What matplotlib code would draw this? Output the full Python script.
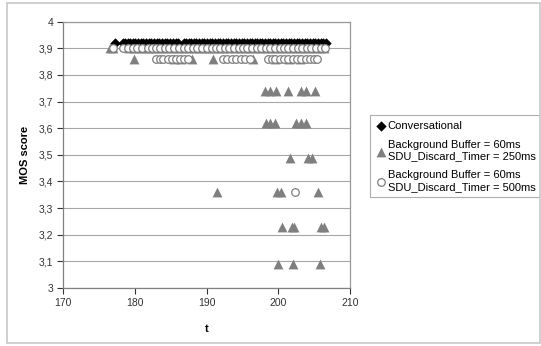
import matplotlib
matplotlib.use('Agg')
import matplotlib.pyplot as plt
from matplotlib.patches import Rectangle
from matplotlib.ticker import FuncFormatter

plt.rcParams['font.family'] = ['Liberation Sans', 'DejaVu Sans']

# Conversational (black diamonds)
conv_t = [177.2, 178.3, 178.7, 179.0, 179.4, 179.8, 180.1, 180.5, 180.9, 181.2, 181.6,
          182.0, 182.3, 182.7, 183.1, 183.4, 183.8, 184.2, 184.5, 184.9, 185.3, 185.7,
          186.0, 186.8, 187.2, 187.5, 187.9, 188.3, 188.6, 189.0, 189.4, 189.7, 190.1,
          190.5, 190.8, 191.2, 191.6, 191.9, 192.3, 192.7, 193.0, 193.4, 193.8, 194.1,
          194.5, 194.9, 195.2, 195.6, 196.0, 196.3, 196.7, 197.1, 197.4, 197.8, 198.2,
          198.5, 198.9, 199.3, 199.6, 200.0, 200.4, 200.7, 201.1, 201.5, 201.8, 202.2,
          202.6, 202.9, 203.3, 203.7, 204.0, 204.4, 204.8, 205.1, 205.5, 205.9, 206.2,
          206.6]
conv_mos = [3.92] * len(conv_t)

# Background Buffer = 60ms, SDU_Discard_Timer = 250ms (grey triangles)
tri_t = [176.6, 177.0, 179.2, 179.9, 180.6, 181.3, 182.0, 182.7, 183.4, 184.1, 184.8,
         185.5, 186.2, 186.9, 187.6, 188.3, 189.0, 189.7, 190.4, 191.1, 191.8, 192.5,
         193.2, 193.9, 194.6, 195.3, 196.0, 196.7, 197.4, 198.1, 198.8, 199.5, 200.2,
         200.9, 201.6, 202.3, 203.0, 203.7, 204.4, 205.1, 205.8, 206.4,
         179.9, 185.5, 186.5, 188.0, 190.9, 196.5, 199.5, 201.5, 203.0,
         198.2, 198.9, 199.7, 201.4, 203.2, 203.9, 205.1,
         198.3, 198.9, 199.6, 202.5, 203.1, 203.8,
         201.6, 204.1, 204.7,
         191.5, 199.8, 200.4, 205.5,
         200.5, 201.9, 202.2, 206.0, 206.4,
         199.9, 202.1, 205.8]
tri_mos = ([3.90] * 42 + [3.86] * 9 + [3.74] * 7 + [3.62] * 6 + [3.49] * 3
           + [3.36] * 4 + [3.23] * 5 + [3.09] * 3)

# Background Buffer = 60ms, SDU_Discard_Timer = 500ms (open circles)
circ_t = [176.9, 178.4, 179.0, 179.7, 180.3, 181.0, 181.8, 182.4, 182.9, 183.5, 184.2,
          184.8, 185.4, 186.1, 186.8, 187.4, 188.1, 188.7, 189.3, 190.0, 190.7, 191.3,
          191.9, 192.6, 193.2, 193.8, 194.5, 195.1, 195.7, 196.4, 197.0, 197.6, 198.3,
          198.9, 199.5, 200.2, 200.8, 201.4, 202.1, 202.7, 203.3, 204.0, 204.6, 205.2,
          205.9, 206.5,
          183.0, 183.5, 184.0, 184.6, 185.2, 185.8, 186.3, 186.9, 187.4,
          192.3, 192.9, 193.5, 194.1, 194.8, 195.4, 196.0,
          198.6, 199.1, 199.6, 200.2, 200.8, 201.4, 202.0, 202.6, 203.2, 203.8, 204.4,
          205.0, 205.4,
          202.3]
circ_mos = [3.90] * 46 + [3.86] * 29 + [3.36]

y_ticks = [3.0, 3.1, 3.2, 3.3, 3.4, 3.5, 3.6, 3.7, 3.8, 3.9, 4.0]
x_ticks = [170, 180, 190, 200, 210]

fig = plt.figure(figsize=(5.41, 3.46), dpi=100)
ax = fig.add_axes([0.1165, 0.1676, 0.5305, 0.7697])

ax.scatter(conv_t, conv_mos, marker='D', s=28, color='black', linewidths=0,
           label='Conversational', zorder=3)
ax.scatter(tri_t, tri_mos, marker='^', s=50, color='#7f7f7f', linewidths=0,
           label='Background Buffer = 60ms\nSDU_Discard_Timer = 250ms', zorder=4)
ax.scatter(circ_t, circ_mos, marker='o', s=30, facecolors='white', edgecolors='#7f7f7f',
           linewidths=0.9, label='Background Buffer = 60ms\nSDU_Discard_Timer = 500ms',
           zorder=5)

ax.set_xlim(170, 210)
ax.set_ylim(3, 4)
ax.set_xticks(x_ticks)
ax.set_yticks(y_ticks)
ax.yaxis.set_major_formatter(FuncFormatter(
    lambda v, p: ('%g' % round(v, 1)).replace('.', ',')))
ax.tick_params(labelsize=7.5, colors='#333333', length=4, width=0.8, direction='out',
               pad=3)
ax.grid(axis='y', color='#a6a6a6', linewidth=0.8)
ax.set_axisbelow(True)
for side in ['top', 'right', 'bottom', 'left']:
    ax.spines[side].set_color('#999999')
    ax.spines[side].set_linewidth(0.9)
ax.spines['left'].set_color('#808080')
ax.spines['bottom'].set_color('#808080')

ax.set_xlabel('t', fontsize=8, fontweight='bold', labelpad=12)
ax.set_ylabel('MOS score', fontsize=8, fontweight='bold', labelpad=6)

leg = ax.legend(loc='center left', bbox_to_anchor=(0.684, 0.548),
                bbox_transform=fig.transFigure, fontsize=8, frameon=True,
                fancybox=False, edgecolor='#999999', handletextpad=0.1,
                handlelength=1.0, borderpad=0.5, labelspacing=0.8, borderaxespad=0)
leg.get_frame().set_linewidth(0.8)

fig.patches.append(Rectangle((7 / 541, 3 / 346), 533 / 541, 340 / 346,
                             transform=fig.transFigure, fill=False,
                             edgecolor='#c8c8c8', linewidth=1.2))

fig.savefig('out.png', dpi=100)
plt.close(fig)
